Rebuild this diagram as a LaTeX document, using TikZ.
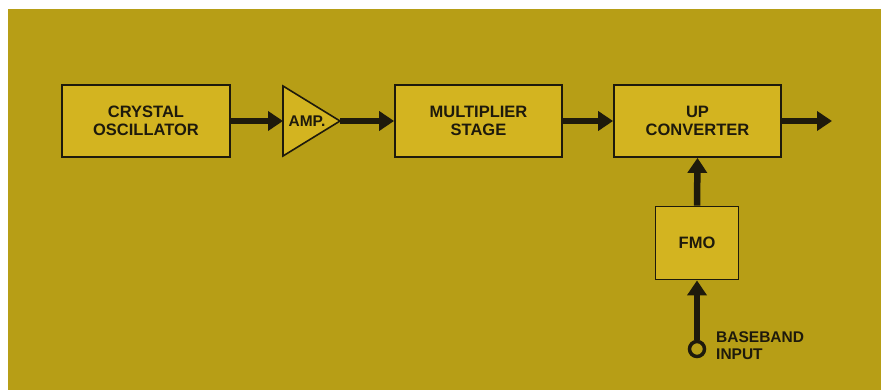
\documentclass[tikz,border=0pt]{standalone}
\usepackage{fontspec}
\setmainfont{Liberation Sans}
\usetikzlibrary{arrows.meta}
\definecolor{bgc}{RGB}{183,158,22}
\definecolor{boxc}{RGB}{211,180,32}
\definecolor{ink}{RGB}{30,26,12}
\tikzset{
  block/.style={draw=ink, line width=1.8pt, fill=boxc, inner sep=0pt, align=center,
    font=\fontsize{16.5}{17.5}\selectfont\bfseries, text=ink},
  sig/.style={draw=ink, line width=6.5pt, -{Triangle[length=15pt,width=19pt]}},
  lbl/.style={font=\fontsize{15.5}{17}\selectfont\bfseries, text=ink, inner sep=0pt}
}
\begin{document}
\begin{tikzpicture}[x=1pt,y=-1pt]
\useasboundingbox (0,0) rectangle (881,390);
\fill[white] (0,0) rectangle (881,390);
\fill[bgc] (8,9) rectangle (881,390);

\node[block, minimum width=168pt, minimum height=72pt] (xo) at (146,121) {CRYSTAL\\OSCILLATOR};
\node[block, minimum width=167pt, minimum height=72pt] (mul) at (478.5,121) {MULTIPLIER\\STAGE};
\node[block, minimum width=167pt, minimum height=72pt] (up) at (697.5,121) {UP\\CONVERTER};
\node[block, minimum width=83pt, minimum height=73pt] (fmo) at (697,243) {FMO};

% amplifier triangle
\coordinate (ampin) at (283,121);
\coordinate (ampout) at (340,121);
\draw[draw=ink, line width=1.6pt, fill=boxc, line join=miter] (283,86) -- (ampout) -- (283,156) -- cycle;
\node[lbl, font=\fontsize{15.5}{17}\selectfont\bfseries] (amp) at (307,121) {AMP.};

\coordinate (out) at (832,121);
\node[circle, draw=ink, line width=3.5pt, minimum size=15pt, inner sep=0pt] (bb) at (697,349) {};
\node[lbl, anchor=west, align=left] (bbl) at (716,346) {BASEBAND\\INPUT};

\draw[sig] (xo.east) -- (ampin);
\draw[sig] (ampout) -- (mul.west);
\draw[sig] (mul.east) -- (up.west);
\draw[sig] (up.east) -- (out);
\draw[sig] (fmo.north) -- (up.south);
\draw[sig] (bb.north) -- (fmo.south);
\end{tikzpicture}
\end{document}
